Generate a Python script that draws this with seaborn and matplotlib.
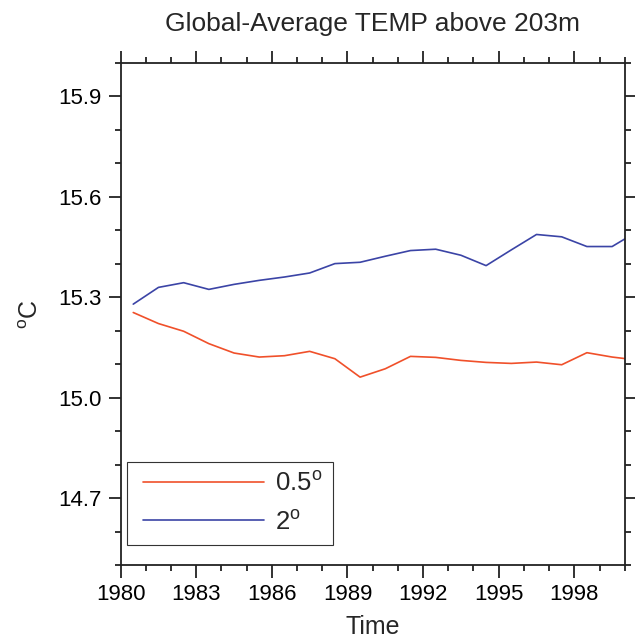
import matplotlib
matplotlib.use("Agg")
import matplotlib.pyplot as plt
from matplotlib.legend_handler import HandlerLine2D
from matplotlib.lines import Line2D
import numpy as np
import pandas as pd
import seaborn as sns

# annual means, plotted at mid-year
years = [1980.5, 1981.5, 1982.5, 1983.5, 1984.5, 1985.5, 1986.5, 1987.5,
         1988.5, 1989.5, 1990.5, 1991.5, 1992.5, 1993.5, 1994.5, 1995.5,
         1996.5, 1997.5, 1998.5, 1999.5, 2000.5]
temp_05 = [15.254, 15.221, 15.198, 15.161, 15.133, 15.121, 15.125, 15.138,
           15.116, 15.061, 15.086, 15.123, 15.120, 15.111, 15.105, 15.102,
           15.106, 15.098, 15.134, 15.121, 15.112]
temp_2 = [15.279, 15.329, 15.343, 15.323, 15.338, 15.350, 15.360, 15.372,
          15.400, 15.404, 15.422, 15.439, 15.443, 15.425, 15.394, 15.441,
          15.487, 15.480, 15.451, 15.451, 15.496]
labels = [r"0.5$^{\mathrm{o}}$", r"2$^{\mathrm{o}}$"]
colors = ["#F0502A", "#3B44A6"]

df = pd.DataFrame({
    "year": years * 2,
    "temp": temp_05 + temp_2,
    "res": [labels[0]] * len(years) + [labels[1]] * len(years),
})

sns.set_theme(style="ticks")
plt.rcParams["font.family"] = ["Liberation Sans", "DejaVu Sans"]
plt.rcParams["mathtext.fontset"] = "custom"
plt.rcParams["mathtext.rm"] = "Liberation Sans"
plt.rcParams["mathtext.it"] = "Liberation Sans"

fig = plt.figure(figsize=(6.35, 6.39), dpi=100)
ax = fig.add_axes([0.190, 0.1158, 0.7938, 0.7861])

sns.lineplot(data=df, x="year", y="temp", hue="res", palette=colors,
             linewidth=1.2, ax=ax, legend=False)

ax.set_xlim(1980, 2000)
ax.set_ylim(14.5, 16.0)
ax.set_xticks(np.arange(1980, 2000, 3))
ax.set_xticks(np.arange(1980, 2001, 1), minor=True)
ax.set_yticks([14.7, 15.0, 15.3, 15.6, 15.9])
ax.set_yticks(np.arange(14.5, 16.01, 0.1), minor=True)
ax.set_yticklabels(["14.7", "15.0", "15.3", "15.6", "15.9"])

for s in ax.spines.values():
    s.set_linewidth(1.3)
    s.set_color("#222222")
ax.tick_params(which="both", direction="out", top=True, right=True,
               color="#222222", width=1.3, labelsize=16, labelcolor="black")
ax.tick_params(which="major", length=9, pad=5)
ax.tick_params(which="minor", length=4.5)

ax.set_xlabel("Time", fontsize=18)
ax.xaxis.set_label_coords(0.5, -0.099)
ax.set_ylabel(r"$^{\mathrm{o}}$C", fontsize=18)
ax.yaxis.set_label_coords(-0.154, 0.5)

fig.text(0.5866, 1 - 24 / 639, "Global-Average TEMP above 203m",
         ha="center", va="center", fontsize=19)

handles = [Line2D([], [], color=c, linewidth=1.2) for c in colors]
leg = ax.legend(handles, labels, loc="lower left",
                bbox_to_anchor=(0.012, 0.040), borderaxespad=0,
                fontsize=18.5, handlelength=4.92, handletextpad=0.43,
                labelspacing=0.55, borderpad=0.41, fancybox=False,
                framealpha=1, edgecolor="#333333",
                handler_map={Line2D: HandlerLine2D(xpad=0.22)})
leg.get_frame().set_linewidth(0.8)

fig.savefig("out.png", dpi=100)
